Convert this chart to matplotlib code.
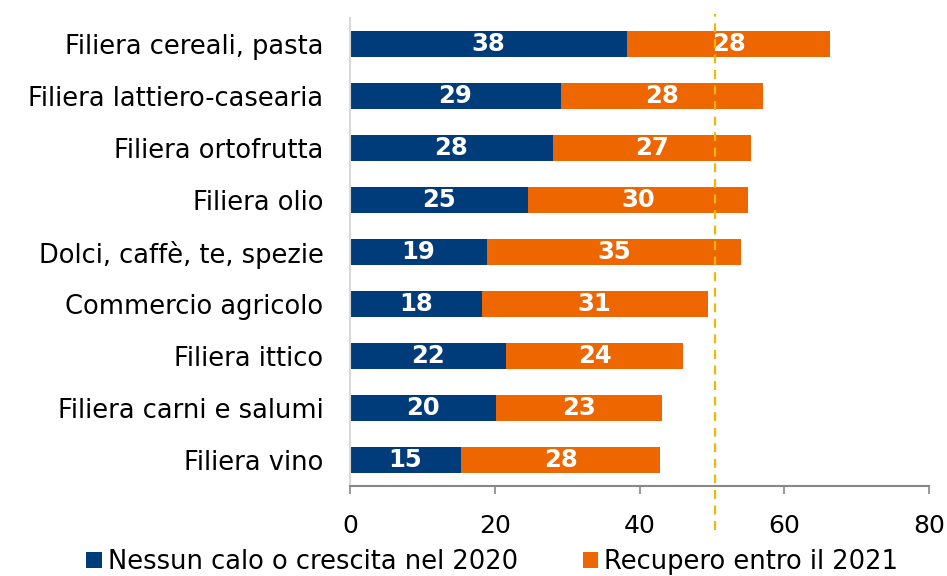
import matplotlib
matplotlib.use("Agg")
import matplotlib.pyplot as plt
import matplotlib.transforms as mtransforms
import numpy as np

categories = ["Filiera cereali, pasta", "Filiera lattiero-casearia", "Filiera ortofrutta",
              "Filiera olio", "Dolci, caffè, te, spezie", "Commercio agricolo",
              "Filiera ittico", "Filiera carni e salumi", "Filiera vino"]
nessun_calo = [38.3, 29.1, 28.0, 24.6, 18.9, 18.2, 21.6, 20.2, 15.3]
recupero = [28.0, 27.9, 27.4, 30.4, 35.1, 31.2, 24.4, 22.9, 27.6]
ref_line = 50.4
series_names = ["Nessun calo o crescita nel 2020", "Recupero entro il 2021"]
xticks = [0, 20, 40, 60, 80]

BLUE = "#003B7A"
ORANGE = "#EE6600"
GOLD = "#F2B800"

plt.rcParams['font.family'] = ['DejaVu Sans']

fig = plt.figure(figsize=(9.47, 5.76), dpi=100)
ax = fig.add_axes([350/947, 1-486/576, 579/947, 468/576])

y = np.arange(len(categories))
ax.barh(y, nessun_calo, height=0.5, color=BLUE, label=series_names[0])
ax.barh(y, recupero, left=nessun_calo, height=0.5, color=ORANGE, label=series_names[1])

for i in range(len(categories)):
    ax.text(nessun_calo[i] / 2, y[i], f"{round(nessun_calo[i])}", ha="center", va="center",
            color="white", fontsize=17.5, fontweight="bold")
    ax.text(nessun_calo[i] + recupero[i] / 2, y[i], f"{round(recupero[i])}", ha="center",
            va="center", color="white", fontsize=17.5, fontweight="bold")

trans = mtransforms.blended_transform_factory(ax.transData, ax.transAxes)
ax.plot([ref_line, ref_line], [-0.094, 1.0085], transform=trans, color=GOLD,
        linestyle=(0, (4, 3)), linewidth=1.6, clip_on=False, zorder=5)

ax.set_xlim(0, 80)
ax.set_ylim(len(categories) - 0.5, -0.5)
ax.set_xticks(xticks)
ax.set_xticklabels([str(t) for t in xticks], fontsize=18)
ax.set_yticks(y)
ax.set_yticklabels(categories, fontsize=18.5)
ax.tick_params(axis="y", length=0, pad=19)
ax.tick_params(axis="x", length=6, color="#888888", width=1.2, pad=14, direction="out")

for s in ["top", "right"]:
    ax.spines[s].set_visible(False)
ax.spines["left"].set_color("#D9D9D9")
ax.spines["left"].set_linewidth(1.5)
ax.spines["bottom"].set_color("#888888")
ax.spines["bottom"].set_linewidth(1.5)

fig.legend(loc="lower center", bbox_to_anchor=(0.52, -0.038), ncol=2, frameon=False,
           fontsize=18.5, handlelength=0.6, handleheight=0.6, handletextpad=0.25,
           columnspacing=2.5)

fig.savefig("out.png", dpi=100)
